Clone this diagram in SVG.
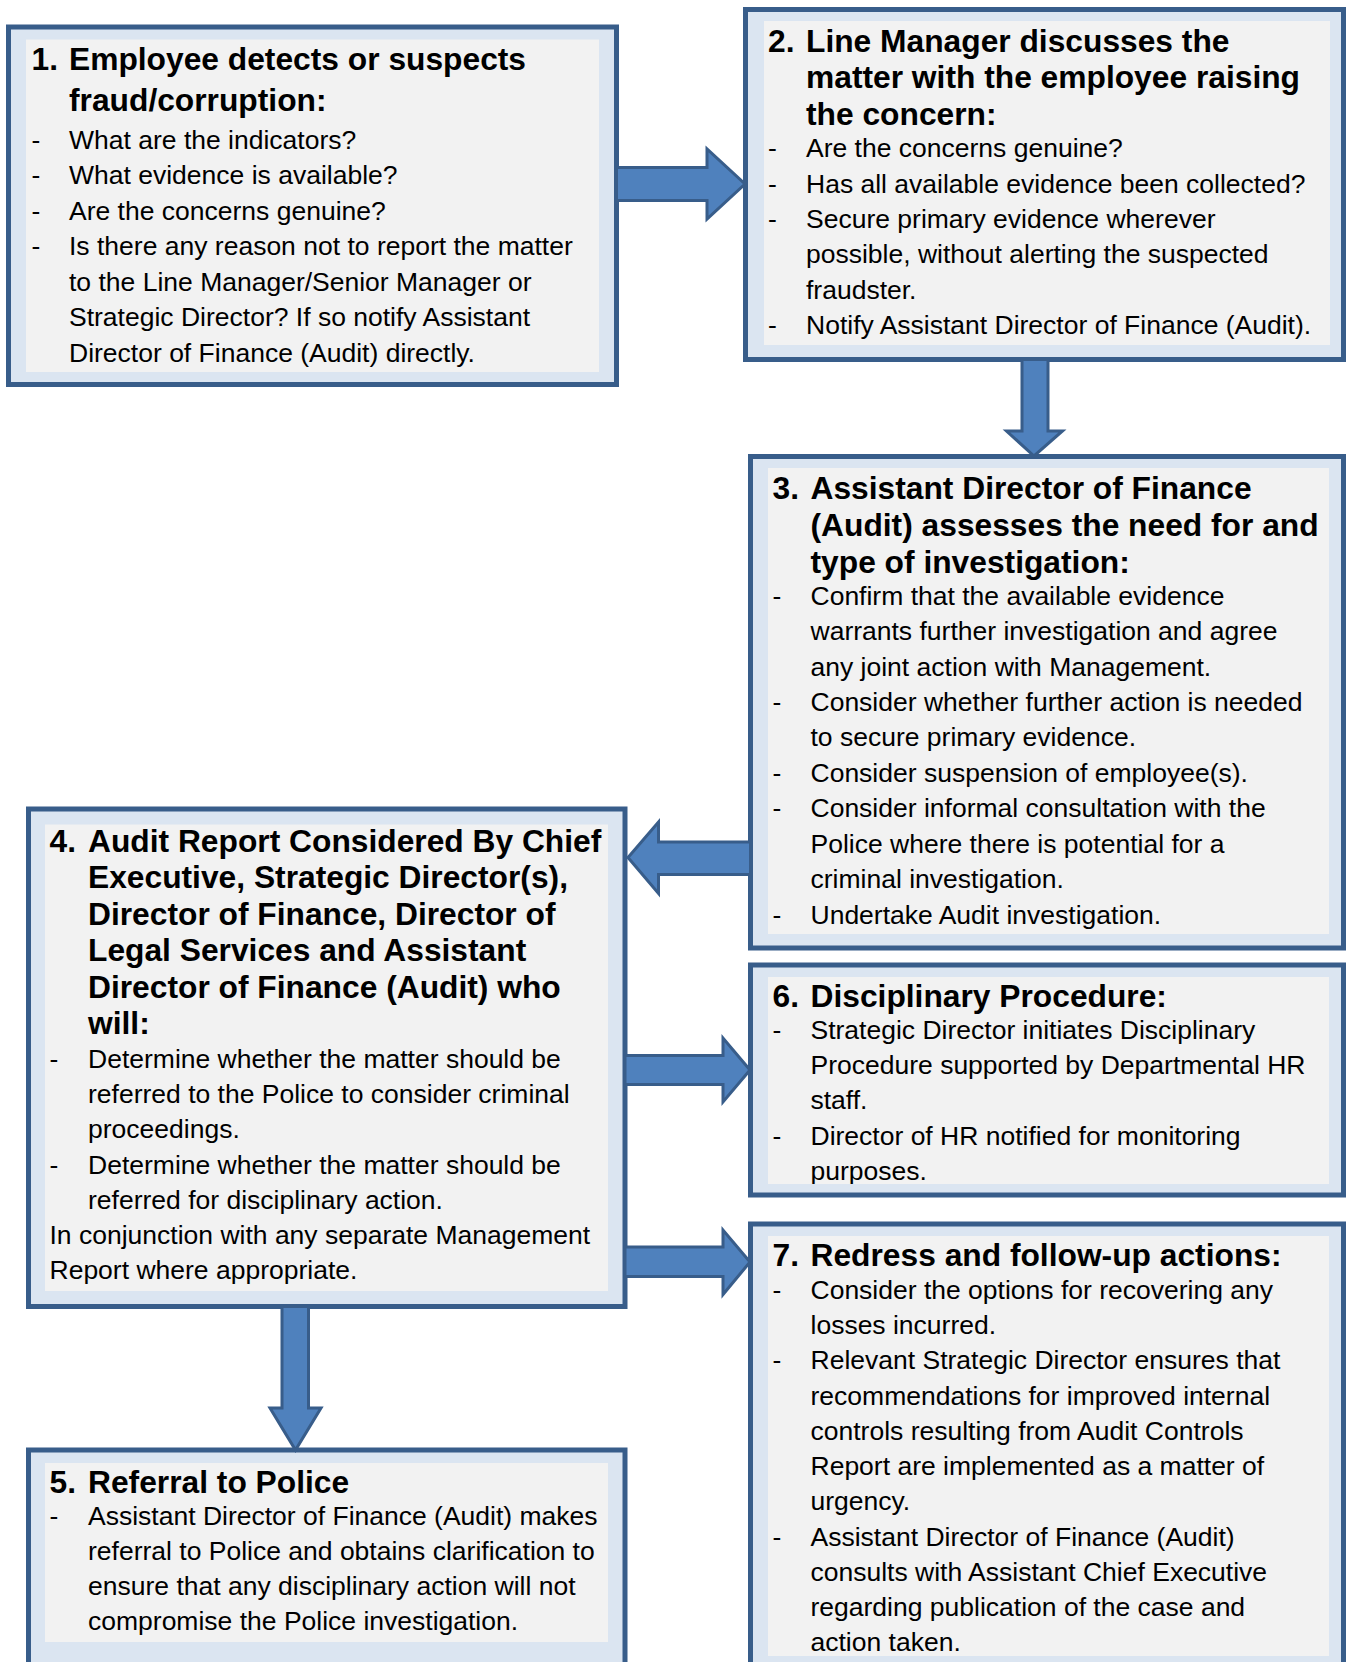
<svg xmlns="http://www.w3.org/2000/svg" width="1348" height="1662" viewBox="0 0 1348 1662">
<style>
.outer{fill:#dbe5f1;stroke:#385d8a;stroke-width:5}
.inner{fill:#f2f2f2}
.arrow{fill:#4f81bd;stroke:#385d8a;stroke-width:3;stroke-linejoin:miter}
text{font-family:"Liberation Sans",Arial,sans-serif;fill:#000}
.t{font-size:31.75px;font-weight:bold}
.b{font-size:26.5px}
</style>
<defs>
<clipPath id="clip6"><rect x="768" y="977" width="561" height="207"/></clipPath>
</defs>
<rect width="1348" height="1662" fill="#ffffff"/>

<g id="node1">
<rect class="outer" x="8.5" y="27" width="608" height="357.5"/>
<rect class="inner" x="26" y="39.5" width="573" height="332.5"/>
<text class="t" x="31.5" y="69.5">1.</text>
<text class="t" x="69" y="111" dy="-41.5">Employee detects or suspects</text>
<text class="t" x="69" y="111">fraud/corruption:</text>
<text class="b" x="31.5" y="148.5">-</text><text class="b" x="69" y="148.5">What are the indicators?</text>
<text class="b" x="31.5" y="184">-</text><text class="b" x="69" y="184">What evidence is available?</text>
<text class="b" x="31.5" y="219.5">-</text><text class="b" x="69" y="219.5">Are the concerns genuine?</text>
<text class="b" x="31.5" y="255">-</text><text class="b" x="69" y="255">Is there any reason not to report the matter</text>
<text class="b" x="69" y="290.5">to the Line Manager/Senior Manager or</text>
<text class="b" x="69" y="326">Strategic Director? If so notify Assistant</text>
<text class="b" x="69" y="361.5">Director of Finance (Audit) directly.</text>
</g>

<g id="node2">
<rect class="outer" x="745.5" y="9.5" width="598" height="350"/>
<rect class="inner" x="764" y="21" width="566" height="324"/>
<text class="t" x="768" y="51.5">2.</text>
<text class="t" x="806" y="51.5">Line Manager discusses the</text>
<text class="t" x="806" y="88">matter with the employee raising</text>
<text class="t" x="806" y="124.5">the concern:</text>
<text class="b" x="768" y="157">-</text><text class="b" x="806" y="157">Are the concerns genuine?</text>
<text class="b" x="768" y="192.5">-</text><text class="b" x="806" y="192.5">Has all available evidence been collected?</text>
<text class="b" x="768" y="228">-</text><text class="b" x="806" y="228">Secure primary evidence wherever</text>
<text class="b" x="806" y="263">possible, without alerting the suspected</text>
<text class="b" x="806" y="298.5">fraudster.</text>
<text class="b" x="768" y="334">-</text><text class="b" x="806" y="334">Notify Assistant Director of Finance (Audit).</text>
</g>

<g id="node3">
<rect class="outer" x="750.5" y="456.5" width="593" height="491.5"/>
<rect class="inner" x="768" y="468" width="561" height="466"/>
<text class="t" x="772.5" y="499">3.</text>
<text class="t" x="810.5" y="499">Assistant Director of Finance</text>
<text class="t" x="810.5" y="536">(Audit) assesses the need for and</text>
<text class="t" x="810.5" y="573">type of investigation:</text>
<text class="b" x="772.5" y="605">-</text><text class="b" x="810.5" y="605">Confirm that the available evidence</text>
<text class="b" x="810.5" y="640">warrants further investigation and agree</text>
<text class="b" x="810.5" y="675.5">any joint action with Management.</text>
<text class="b" x="772.5" y="711">-</text><text class="b" x="810.5" y="711">Consider whether further action is needed</text>
<text class="b" x="810.5" y="746">to secure primary evidence.</text>
<text class="b" x="772.5" y="782">-</text><text class="b" x="810.5" y="782">Consider suspension of employee(s).</text>
<text class="b" x="772.5" y="817">-</text><text class="b" x="810.5" y="817">Consider informal consultation with the</text>
<text class="b" x="810.5" y="853">Police where there is potential for a</text>
<text class="b" x="810.5" y="888">criminal investigation.</text>
<text class="b" x="772.5" y="924">-</text><text class="b" x="810.5" y="924">Undertake Audit investigation.</text>
</g>

<g id="node4">
<rect class="outer" x="28.5" y="809" width="596.5" height="497.5"/>
<rect class="inner" x="45" y="824.5" width="563" height="466.5"/>
<text class="t" x="49.5" y="851.5">4.</text>
<text class="t" x="88" y="851.5">Audit Report Considered By Chief</text>
<text class="t" x="88" y="888">Executive, Strategic Director(s),</text>
<text class="t" x="88" y="924.5">Director of Finance, Director of</text>
<text class="t" x="88" y="961">Legal Services and Assistant</text>
<text class="t" x="88" y="997.5">Director of Finance (Audit) who</text>
<text class="t" x="88" y="1034">will:</text>
<text class="b" x="49.5" y="1067.5">-</text><text class="b" x="88" y="1067.5">Determine whether the matter should be</text>
<text class="b" x="88" y="1102.5">referred to the Police to consider criminal</text>
<text class="b" x="88" y="1138">proceedings.</text>
<text class="b" x="49.5" y="1173.5">-</text><text class="b" x="88" y="1173.5">Determine whether the matter should be</text>
<text class="b" x="88" y="1208.5">referred for disciplinary action.</text>
<text class="b" x="49.5" y="1244">In conjunction with any separate Management</text>
<text class="b" x="49.5" y="1279">Report where appropriate.</text>
</g>

<g id="node5">
<rect class="outer" x="28.5" y="1450" width="596.5" height="260"/>
<rect class="inner" x="45" y="1463" width="563" height="179"/>
<text class="t" x="49.5" y="1493">5.</text>
<text class="t" x="88" y="1493">Referral to Police</text>
<text class="b" x="49.5" y="1524.5">-</text><text class="b" x="88" y="1524.5">Assistant Director of Finance (Audit) makes</text>
<text class="b" x="88" y="1560">referral to Police and obtains clarification to</text>
<text class="b" x="88" y="1595">ensure that any disciplinary action will not</text>
<text class="b" x="88" y="1630">compromise the Police investigation.</text>
</g>

<g id="node6">
<rect class="outer" x="750.5" y="965" width="593" height="230"/>
<rect class="inner" x="768" y="977" width="561" height="207"/>
<g clip-path="url(#clip6)">
<text class="t" x="772.5" y="1007">6.</text>
<text class="t" x="810.5" y="1007">Disciplinary Procedure:</text>
<text class="b" x="772.5" y="1039">-</text><text class="b" x="810.5" y="1039">Strategic Director initiates Disciplinary</text>
<text class="b" x="810.5" y="1074">Procedure supported by Departmental HR</text>
<text class="b" x="810.5" y="1109">staff.</text>
<text class="b" x="772.5" y="1144.5">-</text><text class="b" x="810.5" y="1144.5">Director of HR notified for monitoring</text>
<text class="b" x="810.5" y="1180">purposes.</text>
</g>
</g>

<g id="node7">
<rect class="outer" x="750.5" y="1224" width="593" height="480"/>
<rect class="inner" x="768" y="1236" width="561" height="420"/>
<text class="t" x="772.5" y="1266">7.</text>
<text class="t" x="810.5" y="1266">Redress and follow-up actions:</text>
<text class="b" x="772.5" y="1298.5">-</text><text class="b" x="810.5" y="1298.5">Consider the options for recovering any</text>
<text class="b" x="810.5" y="1333.5">losses incurred.</text>
<text class="b" x="772.5" y="1369">-</text><text class="b" x="810.5" y="1369">Relevant Strategic Director ensures that</text>
<text class="b" x="810.5" y="1404.5">recommendations for improved internal</text>
<text class="b" x="810.5" y="1440">controls resulting from Audit Controls</text>
<text class="b" x="810.5" y="1475">Report are implemented as a matter of</text>
<text class="b" x="810.5" y="1510">urgency.</text>
<text class="b" x="772.5" y="1545.5">-</text><text class="b" x="810.5" y="1545.5">Assistant Director of Finance (Audit)</text>
<text class="b" x="810.5" y="1581">consults with Assistant Chief Executive</text>
<text class="b" x="810.5" y="1616">regarding publication of the case and</text>
<text class="b" x="810.5" y="1651">action taken.</text>
</g>

<g id="connectors">
<polygon class="arrow" points="616.5,167.5 707,167.5 707,149 745,184 707,219 707,200.5 616.5,200.5"/>
<polygon class="arrow" points="1022,359.5 1048,359.5 1048,431 1062.5,431 1034,456 1006.5,431 1022,431"/>
<polygon class="arrow" points="750.5,842 658.5,842 658.5,822 628,857.5 658.5,893.5 658.5,874.5 750.5,874.5"/>
<polygon class="arrow" points="625,1055.5 723,1055.5 723,1038 750,1070 723,1102 723,1084.5 625,1084.5"/>
<polygon class="arrow" points="625,1247 723,1247 723,1230 750,1262 723,1294.5 723,1276.5 625,1276.5"/>
<polygon class="arrow" points="282,1306.5 308.5,1306.5 308.5,1408 321,1408 295.5,1450 270,1408 282,1408"/>
</g>
</svg>
